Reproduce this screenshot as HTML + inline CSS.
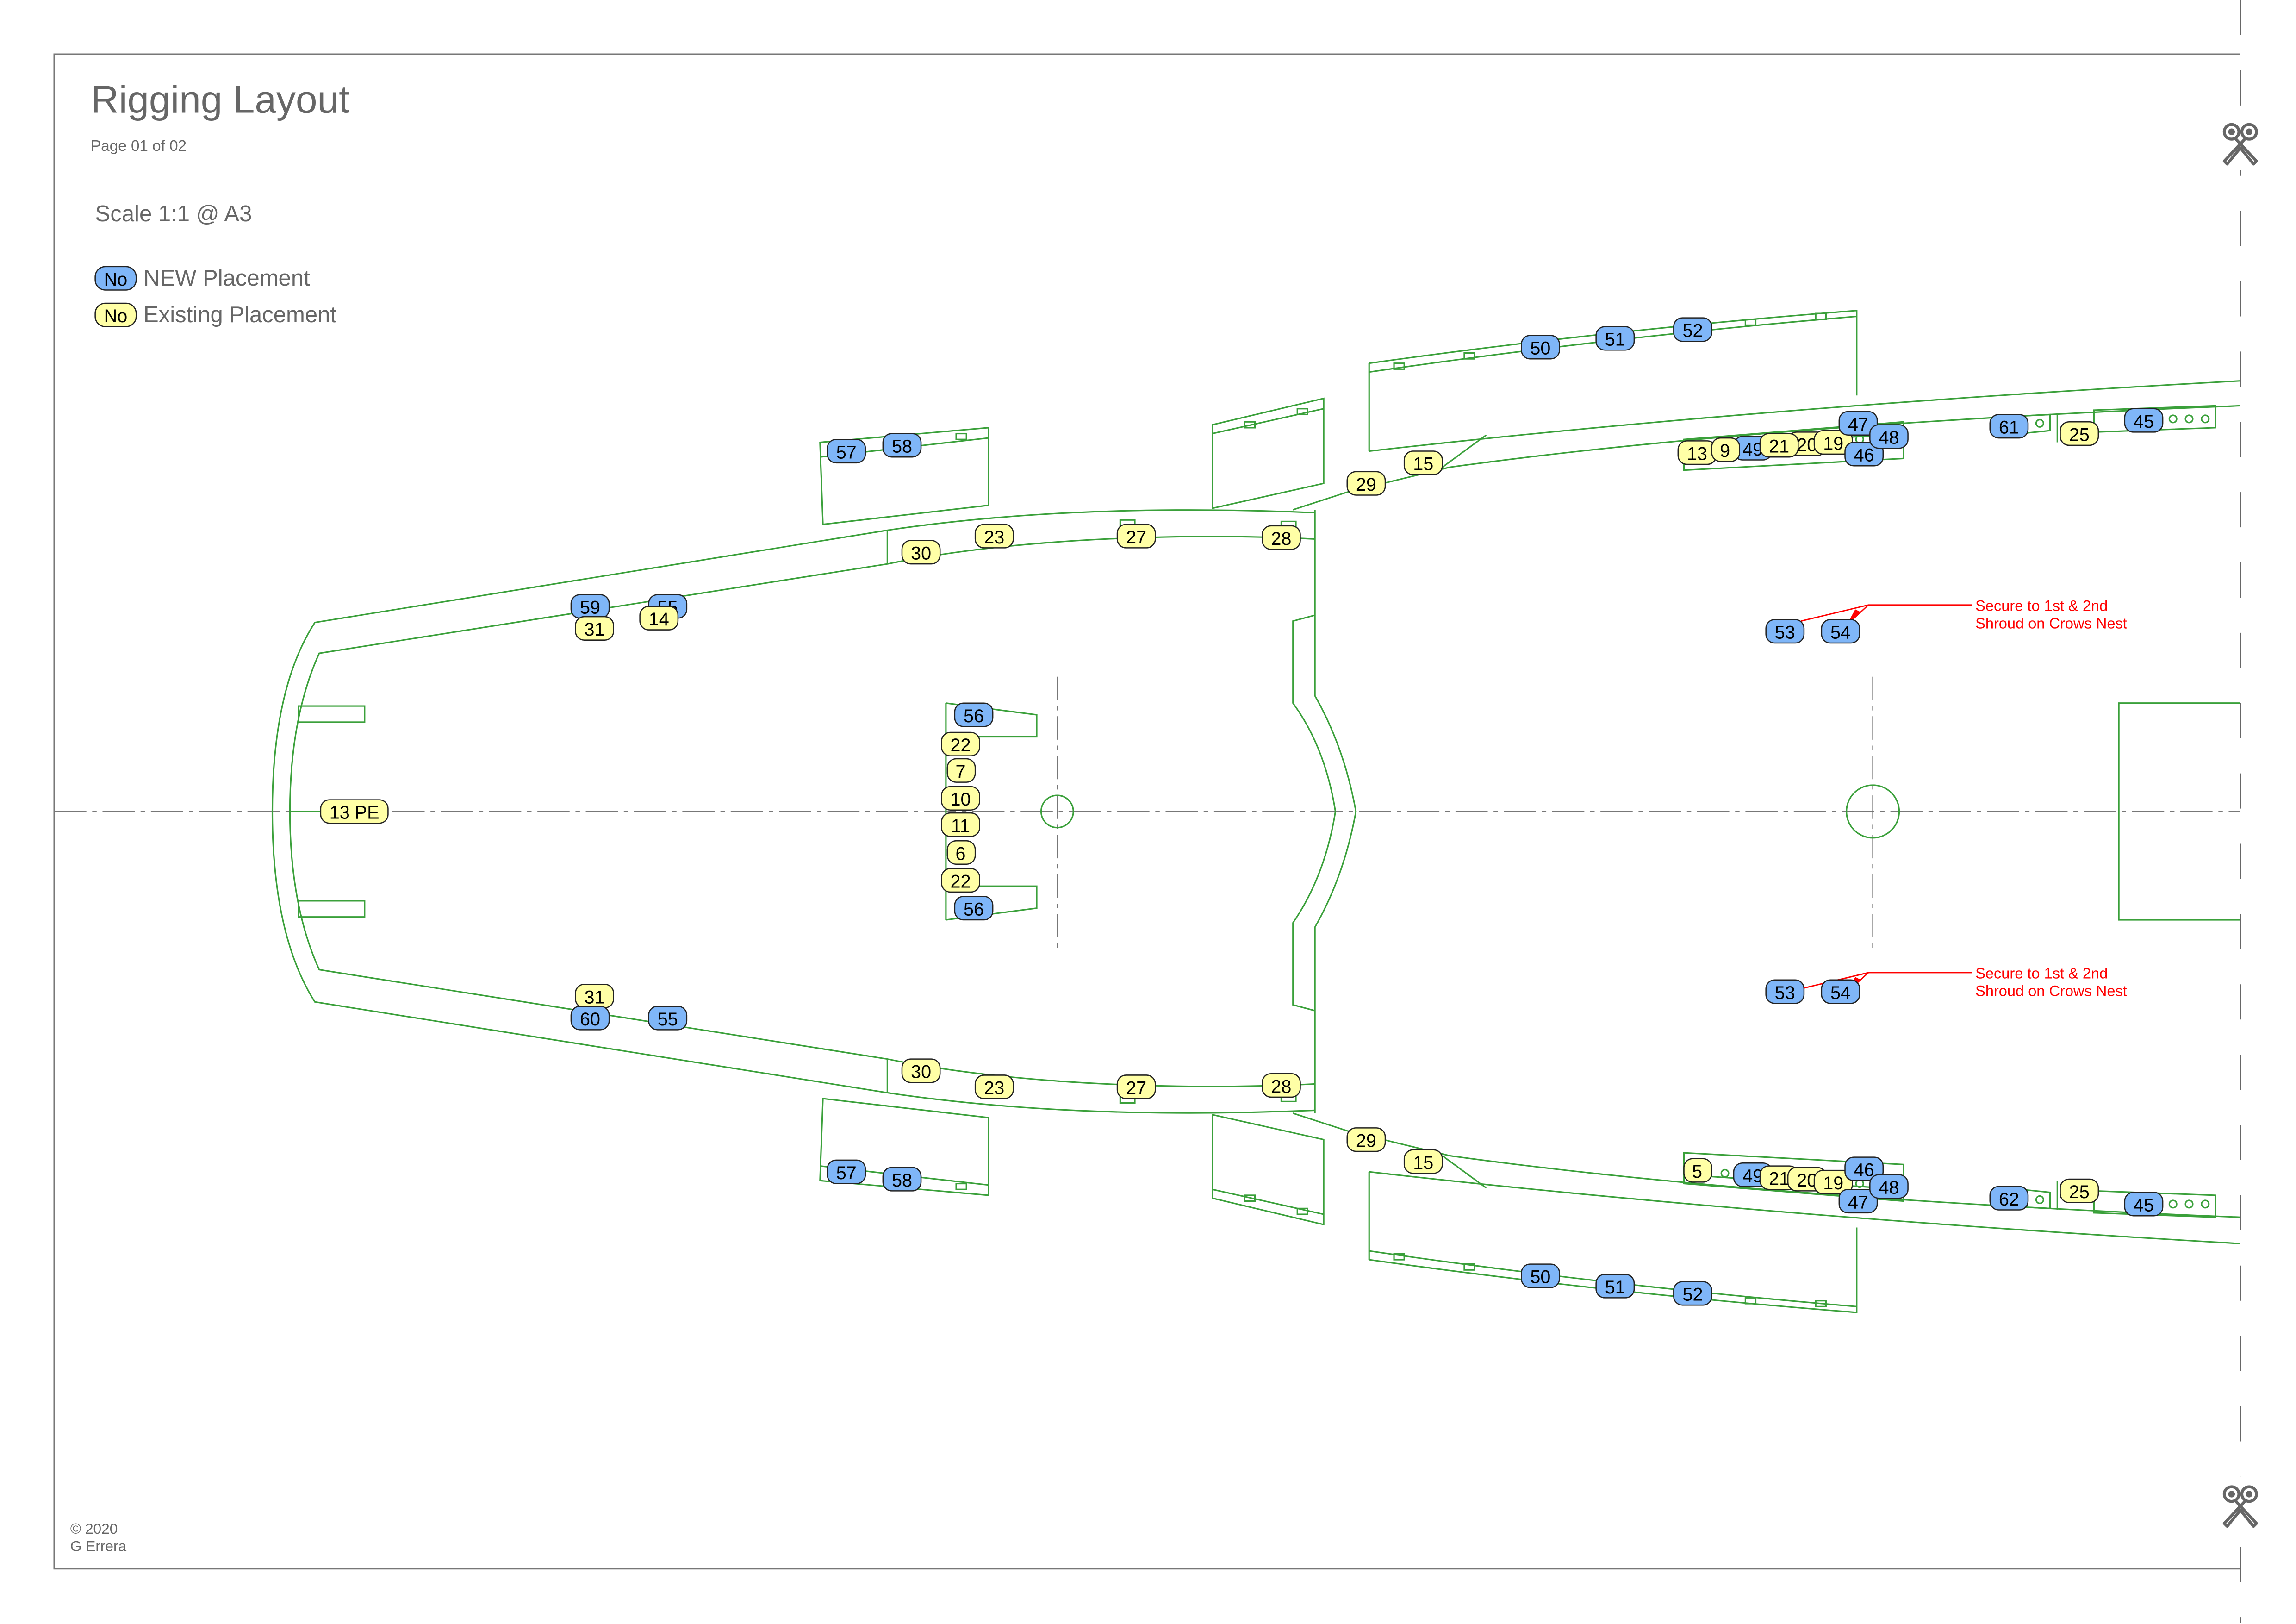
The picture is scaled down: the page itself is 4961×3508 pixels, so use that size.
<!DOCTYPE html>
<html><head><meta charset="utf-8"><style>
html,body{margin:0;padding:0;background:#fff;}
svg{display:block;}
.b rect{fill:#7fb6f8;stroke:#222;stroke-width:0.8;}
.y rect{fill:#ffffa6;stroke:#222;stroke-width:0.8;}
.b text,.y text{font-family:"Liberation Sans",sans-serif;font-size:12.5px;text-anchor:middle;fill:#000;}
.g{fill:none;stroke:#3aa03a;stroke-width:1;}
.t{font-family:"Liberation Sans",sans-serif;fill:#666;}
</style></head><body>
<svg width="4961" height="3508" viewBox="0 0 1568 1108.7" preserveAspectRatio="none" xmlns="http://www.w3.org/2000/svg">
<defs>
<g id="sc"><circle cx="-6" cy="-7" r="5" fill="none" stroke="#666" stroke-width="2"/><circle cx="6" cy="-7" r="5" fill="none" stroke="#666" stroke-width="2"/><circle cx="-6" cy="-7" r="2.3" fill="#666"/><circle cx="6" cy="-7" r="2.3" fill="#666"/><path d="M-3,-2 L11,13 L9,15 L0,4 L-9,15 L-11,13 L3,-2" fill="none" stroke="#666" stroke-width="2" stroke-linejoin="round"/></g>
</defs>
<!-- frame -->
<polyline points="1530,37 37,37 37,1071 1530,1071" fill="none" stroke="#777" stroke-width="1"/>
<!-- text -->
<text class="t" x="62" y="77" font-size="26.5">Rigging Layout</text>
<text class="t" x="62" y="103" font-size="10.5">Page 01 of 02</text>
<text class="t" x="65" y="151" font-size="15.5">Scale 1:1 @ A3</text>
<g class="b"><rect x="65" y="182" width="28" height="16" rx="7"/><text x="79" y="195">No</text></g>
<text class="t" x="98" y="195" font-size="15.5">NEW Placement</text>
<g class="y"><rect x="65" y="207" width="28" height="16" rx="7"/><text x="79" y="220">No</text></g>
<text class="t" x="98" y="220" font-size="15.5">Existing Placement</text>
<text class="t" x="48" y="1047" font-size="10">© 2020</text>
<text class="t" x="48" y="1059" font-size="10">G Errera</text>
<!-- centerlines -->
<line x1="37" y1="554" x2="1530" y2="554" stroke="#777" stroke-width="0.8" stroke-dasharray="22,4,3,4"/>
<line x1="722" y1="462" x2="722" y2="648" stroke="#777" stroke-width="0.8" stroke-dasharray="16,4,3,4"/>
<line x1="1279" y1="462" x2="1279" y2="648" stroke="#777" stroke-width="0.8" stroke-dasharray="16,4,3,4"/>
<circle class="g" cx="722" cy="554" r="11"/>
<circle class="g" cx="1279" cy="554" r="18"/>
<polyline class="g" points="1530,480 1447,480 1447,628 1530,628"/>
<!-- hull -->
<g class="g">
<path d="M898,350 C800,346 700,348 606,362 L215,425 Q186,470 186,554 Q186,638 215,684 L606,746 C700,760 800,762 898,758"/>
<path d="M898,368 C820,364 700,366 606,385 L218,446 Q198,490 198,554 Q198,618 218,662 L606,723 C700,742 820,744 898,740"/>
<line x1="606" y1="362" x2="606" y2="385"/><line x1="606" y1="723" x2="606" y2="746"/>
<path d="M898,348 L898,475 Q918,510 926,554 Q918,598 898,633 L898,760"/>
<path d="M898,420 L883,424 L883,480 Q905,510 912,554 Q905,598 883,630 L883,686 L898,690"/>
<rect x="204" y="482" width="45" height="11"/><rect x="204" y="615" width="45" height="11"/>
<line x1="198" y1="554" x2="222" y2="554"/>
<polyline points="646,480 708,488 708,503 646,503"/><line x1="646" y1="480" x2="646" y2="628"/>
<polyline points="646,605 708,605 708,620 646,628"/>
<rect x="765" y="355" width="10" height="5"/><rect x="875" y="356" width="10" height="5"/>
<rect x="765" y="748" width="10" height="5"/><rect x="875" y="747" width="10" height="5"/>
<path d="M560,302 L675,292 L675,345 L562,358 Z M560,312 L675,299"/><rect x="653" y="296" width="7" height="4"/>
<path d="M560,806 L675,816 L675,763 L562,750 Z M560,796 L675,809"/><rect x="653" y="808" width="7" height="4"/>
<path d="M828,290 L904,272 L904,330 L828,347 Z M828,296 L904,279"/><rect x="850" y="288" width="7" height="4"/><rect x="886" y="279" width="7" height="4"/>
<path d="M828,818 L904,836 L904,778 L828,761 Z M828,812 L904,829"/><rect x="850" y="816" width="7" height="4"/><rect x="886" y="825" width="7" height="4"/>
<path d="M935,248 Q1100,225 1268,212 L1268,270 M935,248 L935,308 M935,254 Q1100,230 1268,216"/>
<rect x="952" y="248" width="7" height="4"/><rect x="1000" y="241" width="7" height="4"/><rect x="1192" y="218" width="7" height="4"/><rect x="1240" y="214" width="7" height="4"/>
<path d="M935,860 Q1100,883 1268,896 L1268,838 M935,860 L935,800 M935,854 Q1100,878 1268,892"/>
<rect x="952" y="856" width="7" height="4"/><rect x="1000" y="863" width="7" height="4"/><rect x="1192" y="886" width="7" height="4"/><rect x="1240" y="888" width="7" height="4"/>
<path d="M935,308 Q1200,278 1530,260"/>
<path d="M883,348 L920,336 L990,319 Q1200,290 1530,277"/>
<line x1="985" y1="319" x2="1015" y2="297"/>
<path d="M935,800 Q1200,830 1530,849"/>
<path d="M883,760 L920,772 L990,789 Q1200,818 1530,831"/>
<line x1="985" y1="789" x2="1015" y2="811"/>
<path d="M1150,300 L1300,288 L1300,313 L1150,321 Z M1150,306 L1300,296"/>
<path d="M1150,808 L1300,820 L1300,795 L1150,787 Z M1150,802 L1300,812"/>
<path d="M1380,284 L1400,283 L1400,294 L1380,296"/><path d="M1405,282 L1405,302"/>
<path d="M1430,280 L1513,277 L1513,292 L1430,295 Z"/>
<path d="M1380,824 L1400,825 L1400,814 L1380,812"/><path d="M1405,826 L1405,806"/>
<path d="M1430,828 L1513,831 L1513,816 L1430,813 Z"/>
<circle cx="1393" cy="289" r="2.5"/><circle cx="1484" cy="286" r="2.5"/><circle cx="1495" cy="286" r="2.5"/><circle cx="1506" cy="286" r="2.5"/><circle cx="1270" cy="300" r="2.5"/>
<circle cx="1393" cy="819" r="2.5"/><circle cx="1484" cy="822" r="2.5"/><circle cx="1495" cy="822" r="2.5"/><circle cx="1506" cy="822" r="2.5"/><circle cx="1178" cy="801" r="2.5"/><circle cx="1270" cy="808" r="2.5"/>
</g>
<!-- cut line on top -->
<line x1="1530" y1="0" x2="1530" y2="1108" stroke="#666" stroke-width="1" stroke-dasharray="24,24"/>
<rect x="1519" y="78" width="22" height="38" fill="#fff"/><use href="#sc" x="1530" y="97"/>
<rect x="1519" y="1008" width="22" height="38" fill="#fff"/><use href="#sc" x="1530" y="1027"/>
<!-- red callouts -->
<g stroke="#f00" stroke-width="0.9" fill="none">
<path d="M1230,424 L1276,413 L1347,413 M1264,424 L1276,413"/>
<path d="M1230,675 L1276,664 L1347,664 M1264,675 L1276,664"/>
</g>
<path d="M1262,425 L1267,416 L1271,418 Z M1262,676 L1267,667 L1271,669 Z" fill="#f00"/>
<text x="1349" y="417" font-family="Liberation Sans,sans-serif" font-size="10.3" fill="#f00">Secure to 1st &amp; 2nd</text>
<text x="1349" y="429" font-family="Liberation Sans,sans-serif" font-size="10.3" fill="#f00">Shroud on Crows Nest</text>
<text x="1349" y="668" font-family="Liberation Sans,sans-serif" font-size="10.3" fill="#f00">Secure to 1st &amp; 2nd</text>
<text x="1349" y="680" font-family="Liberation Sans,sans-serif" font-size="10.3" fill="#f00">Shroud on Crows Nest</text>
<!-- badges -->
<g class="b"><rect x="565" y="300" width="26" height="16" rx="6"/><text x="578" y="313">57</text></g>
<g class="b"><rect x="603" y="296" width="26" height="16" rx="6"/><text x="616" y="309">58</text></g>
<g class="b"><rect x="1039" y="229" width="26" height="16" rx="6"/><text x="1052" y="242">50</text></g>
<g class="b"><rect x="1090" y="223" width="26" height="16" rx="6"/><text x="1103" y="236">51</text></g>
<g class="b"><rect x="1143" y="217" width="26" height="16" rx="6"/><text x="1156" y="230">52</text></g>
<g class="y"><rect x="920" y="322" width="26" height="16" rx="6"/><text x="933" y="335">29</text></g>
<g class="y"><rect x="959" y="308" width="26" height="16" rx="6"/><text x="972" y="321">15</text></g>
<g class="b"><rect x="1184" y="298" width="26" height="16" rx="6"/><text x="1197" y="311">49</text></g>
<g class="y"><rect x="1146" y="301" width="26" height="16" rx="6"/><text x="1159" y="314">13</text></g>
<g class="y"><rect x="1169" y="299" width="19" height="16" rx="6"/><text x="1178" y="312">9</text></g>
<g class="y"><rect x="1221" y="295" width="26" height="16" rx="6"/><text x="1234" y="308">20</text></g>
<g class="y"><rect x="1202" y="296" width="26" height="16" rx="6"/><text x="1215" y="309">21</text></g>
<g class="y"><rect x="1239" y="294" width="26" height="16" rx="6"/><text x="1252" y="307">19</text></g>
<g class="b"><rect x="1256" y="281" width="26" height="16" rx="6"/><text x="1269" y="294">47</text></g>
<g class="b"><rect x="1260" y="302" width="26" height="16" rx="6"/><text x="1273" y="315">46</text></g>
<g class="b"><rect x="1277" y="290" width="26" height="16" rx="6"/><text x="1290" y="303">48</text></g>
<g class="b"><rect x="1359" y="283" width="26" height="16" rx="6"/><text x="1372" y="296">61</text></g>
<g class="y"><rect x="1407" y="288" width="26" height="16" rx="6"/><text x="1420" y="301">25</text></g>
<g class="b"><rect x="1451" y="279" width="26" height="16" rx="6"/><text x="1464" y="292">45</text></g>
<g class="y"><rect x="616" y="369" width="26" height="16" rx="6"/><text x="629" y="382">30</text></g>
<g class="y"><rect x="666" y="358" width="26" height="16" rx="6"/><text x="679" y="371">23</text></g>
<g class="y"><rect x="763" y="358" width="26" height="16" rx="6"/><text x="776" y="371">27</text></g>
<g class="y"><rect x="862" y="359" width="26" height="16" rx="6"/><text x="875" y="372">28</text></g>
<g class="b"><rect x="443" y="406" width="26" height="16" rx="6"/><text x="456" y="419">55</text></g>
<g class="b"><rect x="390" y="406" width="26" height="16" rx="6"/><text x="403" y="419">59</text></g>
<g class="y"><rect x="393" y="421" width="26" height="16" rx="6"/><text x="406" y="434">31</text></g>
<g class="y"><rect x="437" y="414" width="26" height="16" rx="6"/><text x="450" y="427">14</text></g>
<g class="b"><rect x="1206" y="423" width="26" height="16" rx="6"/><text x="1219" y="436">53</text></g>
<g class="b"><rect x="1244" y="423" width="26" height="16" rx="6"/><text x="1257" y="436">54</text></g>
<g class="b"><rect x="1206" y="669" width="26" height="16" rx="6"/><text x="1219" y="682">53</text></g>
<g class="b"><rect x="1244" y="669" width="26" height="16" rx="6"/><text x="1257" y="682">54</text></g>
<g class="b"><rect x="652" y="480" width="26" height="16" rx="6"/><text x="665" y="493">56</text></g>
<g class="y"><rect x="643" y="500" width="26" height="16" rx="6"/><text x="656" y="513">22</text></g>
<g class="y"><rect x="647" y="518" width="19" height="16" rx="6"/><text x="656" y="531">7</text></g>
<g class="y"><rect x="643" y="537" width="26" height="16" rx="6"/><text x="656" y="550">10</text></g>
<g class="y"><rect x="643" y="555" width="26" height="16" rx="6"/><text x="656" y="568">11</text></g>
<g class="y"><rect x="647" y="574" width="19" height="16" rx="6"/><text x="656" y="587">6</text></g>
<g class="y"><rect x="643" y="593" width="26" height="16" rx="6"/><text x="656" y="606">22</text></g>
<g class="b"><rect x="652" y="612" width="26" height="16" rx="6"/><text x="665" y="625">56</text></g>
<g class="y"><rect x="219" y="546" width="46" height="16" rx="6"/><text x="242" y="559">13 PE</text></g>
<g class="y"><rect x="393" y="672" width="26" height="16" rx="6"/><text x="406" y="685">31</text></g>
<g class="b"><rect x="390" y="687" width="26" height="16" rx="6"/><text x="403" y="700">60</text></g>
<g class="b"><rect x="443" y="687" width="26" height="16" rx="6"/><text x="456" y="700">55</text></g>
<g class="y"><rect x="616" y="723" width="26" height="16" rx="6"/><text x="629" y="736">30</text></g>
<g class="y"><rect x="666" y="734" width="26" height="16" rx="6"/><text x="679" y="747">23</text></g>
<g class="y"><rect x="763" y="734" width="26" height="16" rx="6"/><text x="776" y="747">27</text></g>
<g class="y"><rect x="862" y="733" width="26" height="16" rx="6"/><text x="875" y="746">28</text></g>
<g class="b"><rect x="565" y="792" width="26" height="16" rx="6"/><text x="578" y="805">57</text></g>
<g class="b"><rect x="603" y="797" width="26" height="16" rx="6"/><text x="616" y="810">58</text></g>
<g class="y"><rect x="920" y="770" width="26" height="16" rx="6"/><text x="933" y="783">29</text></g>
<g class="y"><rect x="959" y="785" width="26" height="16" rx="6"/><text x="972" y="798">15</text></g>
<g class="y"><rect x="1150" y="791" width="19" height="16" rx="6"/><text x="1159" y="804">5</text></g>
<g class="b"><rect x="1184" y="794" width="26" height="16" rx="6"/><text x="1197" y="807">49</text></g>
<g class="y"><rect x="1202" y="796" width="26" height="16" rx="6"/><text x="1215" y="809">21</text></g>
<g class="y"><rect x="1221" y="797" width="26" height="16" rx="6"/><text x="1234" y="810">20</text></g>
<g class="y"><rect x="1239" y="799" width="26" height="16" rx="6"/><text x="1252" y="812">19</text></g>
<g class="b"><rect x="1260" y="790" width="26" height="16" rx="6"/><text x="1273" y="803">46</text></g>
<g class="b"><rect x="1256" y="812" width="26" height="16" rx="6"/><text x="1269" y="825">47</text></g>
<g class="b"><rect x="1277" y="802" width="26" height="16" rx="6"/><text x="1290" y="815">48</text></g>
<g class="b"><rect x="1359" y="810" width="26" height="16" rx="6"/><text x="1372" y="823">62</text></g>
<g class="y"><rect x="1407" y="805" width="26" height="16" rx="6"/><text x="1420" y="818">25</text></g>
<g class="b"><rect x="1451" y="814" width="26" height="16" rx="6"/><text x="1464" y="827">45</text></g>
<g class="b"><rect x="1039" y="863" width="26" height="16" rx="6"/><text x="1052" y="876">50</text></g>
<g class="b"><rect x="1090" y="870" width="26" height="16" rx="6"/><text x="1103" y="883">51</text></g>
<g class="b"><rect x="1143" y="875" width="26" height="16" rx="6"/><text x="1156" y="888">52</text></g>
</svg>
</body></html>
